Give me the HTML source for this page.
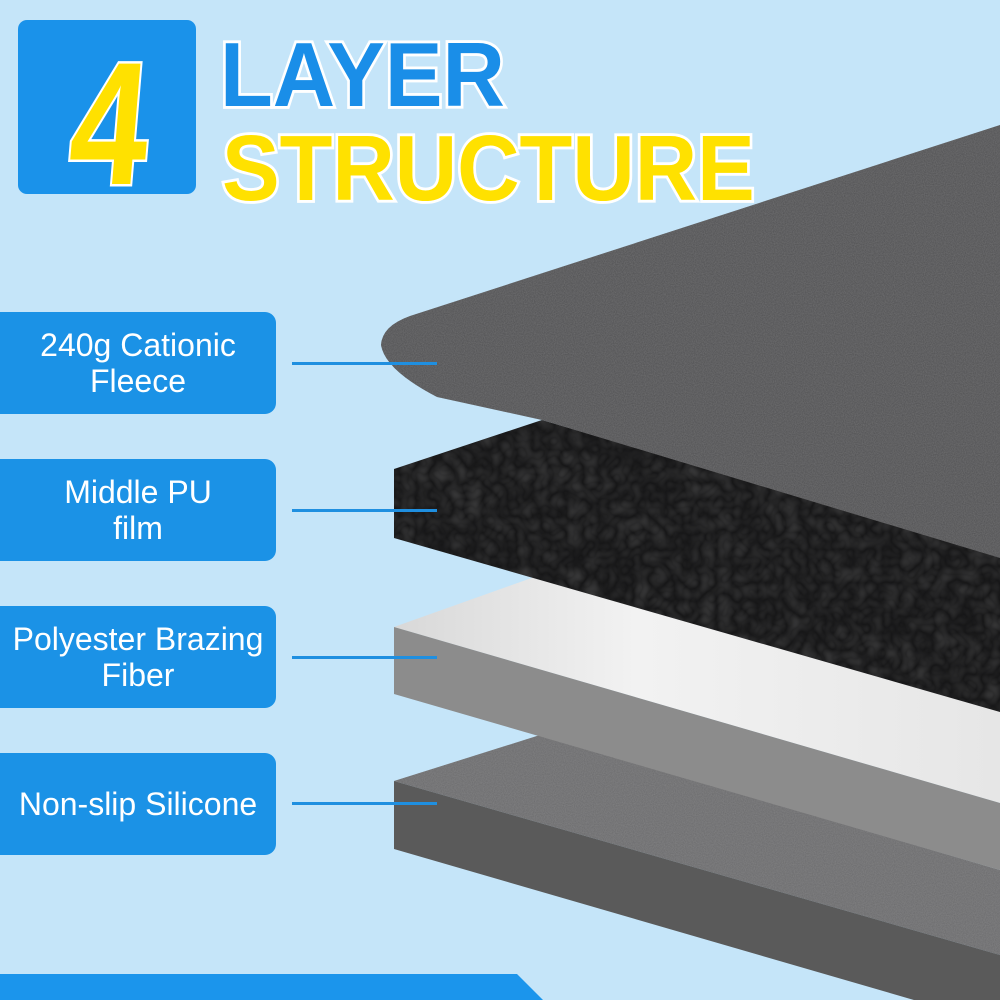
<!DOCTYPE html>
<html><head><meta charset="utf-8"><style>
html,body{margin:0;padding:0;width:1000px;height:1000px;overflow:hidden}
body{background:#c5e5f9;font-family:"Liberation Sans",sans-serif;position:relative}
.box{position:absolute;left:0;width:276px;height:102px;background:#1b92e6;border-radius:0 11px 11px 0;color:#fff;font-size:32px;line-height:36px;display:flex;align-items:center;justify-content:center;text-align:center}
.ln{position:absolute;left:292px;width:145px;height:3px;background:#1f8fe0}
</style></head><body>
<svg width="1000" height="1000" style="position:absolute;left:0;top:0">
<defs>
<filter id="n1" x="0" y="0" width="100%" height="100%"><feTurbulence type="fractalNoise" baseFrequency="0.9" numOctaves="2" seed="3"/><feColorMatrix values="0 0 0 0 0.5  0 0 0 0 0.5  0 0 0 0 0.5  0 0 0 0.3 0"/><feComposite in2="SourceGraphic" operator="in"/></filter>
<filter id="n2" x="0" y="0" width="100%" height="100%"><feTurbulence type="turbulence" baseFrequency="0.06" numOctaves="2" seed="7"/><feColorMatrix values="0 0 0 0 0.35  0 0 0 0 0.35  0 0 0 0 0.35  0 0 0 0.3 0"/><feComposite in2="SourceGraphic" operator="in"/></filter>
<linearGradient id="wt" x1="0" y1="0" x2="1" y2="0"><stop offset="0" stop-color="#d8d8d8"/><stop offset="0.4" stop-color="#f2f2f2"/><stop offset="1" stop-color="#e6e6e6"/></linearGradient>
</defs>
<polygon points="394,781 540,735 1000,870 1000,955" fill="#6a6a6c"/>
<polygon points="394,781 540,735 1000,870 1000,955" fill="#6a6a6c" filter="url(#n1)"/>
<polygon points="394,781 1000,955 1000,1025 394,849" fill="#5a5a5a"/>
<polygon points="394,627 540,575 1000,700 1000,803" fill="url(#wt)"/>
<polygon points="394,627 1000,803 1000,870 394,694" fill="#8c8c8c"/>
<polygon points="394,469 542,420 1000,555 1000,712 394,538" fill="#161617"/>
<polygon points="394,469 542,420 1000,555 1000,712 394,538" fill="#000" filter="url(#n2)"/>
<path d="M437,397 Q385,370 381,345 Q382,326 410,316 L1000,125 L1000,558 L542,420 Z" fill="#505052"/>
<path d="M437,397 Q385,370 381,345 Q382,326 410,316 L1000,125 L1000,558 L542,420 Z" fill="#505052" filter="url(#n1)"/>
<polygon points="0,974 517,974 543,1000 0,1000" fill="#1b95ec"/>
<rect x="18" y="20" width="178" height="174" rx="9" fill="#1a92ea"/>
<text x="0" y="0" font-family="Liberation Sans" font-weight="bold" font-size="175" fill="#ffe100" stroke="#fff" stroke-width="5" paint-order="stroke" transform="translate(105,184) scale(0.8,1) skewX(-6)" text-anchor="middle">4</text>
<text x="0" y="0" font-family="Liberation Sans" font-weight="bold" font-size="96" fill="#1a8ee8" stroke="#fff" stroke-width="6" paint-order="stroke" transform="translate(220,106) scale(0.9,0.95)">LAYER</text>
<text x="0" y="0" font-family="Liberation Sans" font-weight="bold" font-size="96" fill="#ffe100" stroke="#fff" stroke-width="6" paint-order="stroke" transform="translate(222,200) scale(0.9,0.97)">STRUCTURE</text>
</svg>
<div class="box" style="top:312px">240g Cationic<br>Fleece</div>
<div class="box" style="top:459px">Middle PU<br>film</div>
<div class="box" style="top:606px">Polyester Brazing<br>Fiber</div>
<div class="box" style="top:753px">Non-slip Silicone</div>
<div class="ln" style="top:362px"></div>
<div class="ln" style="top:509px"></div>
<div class="ln" style="top:656px"></div>
<div class="ln" style="top:802px"></div>
</body></html>
